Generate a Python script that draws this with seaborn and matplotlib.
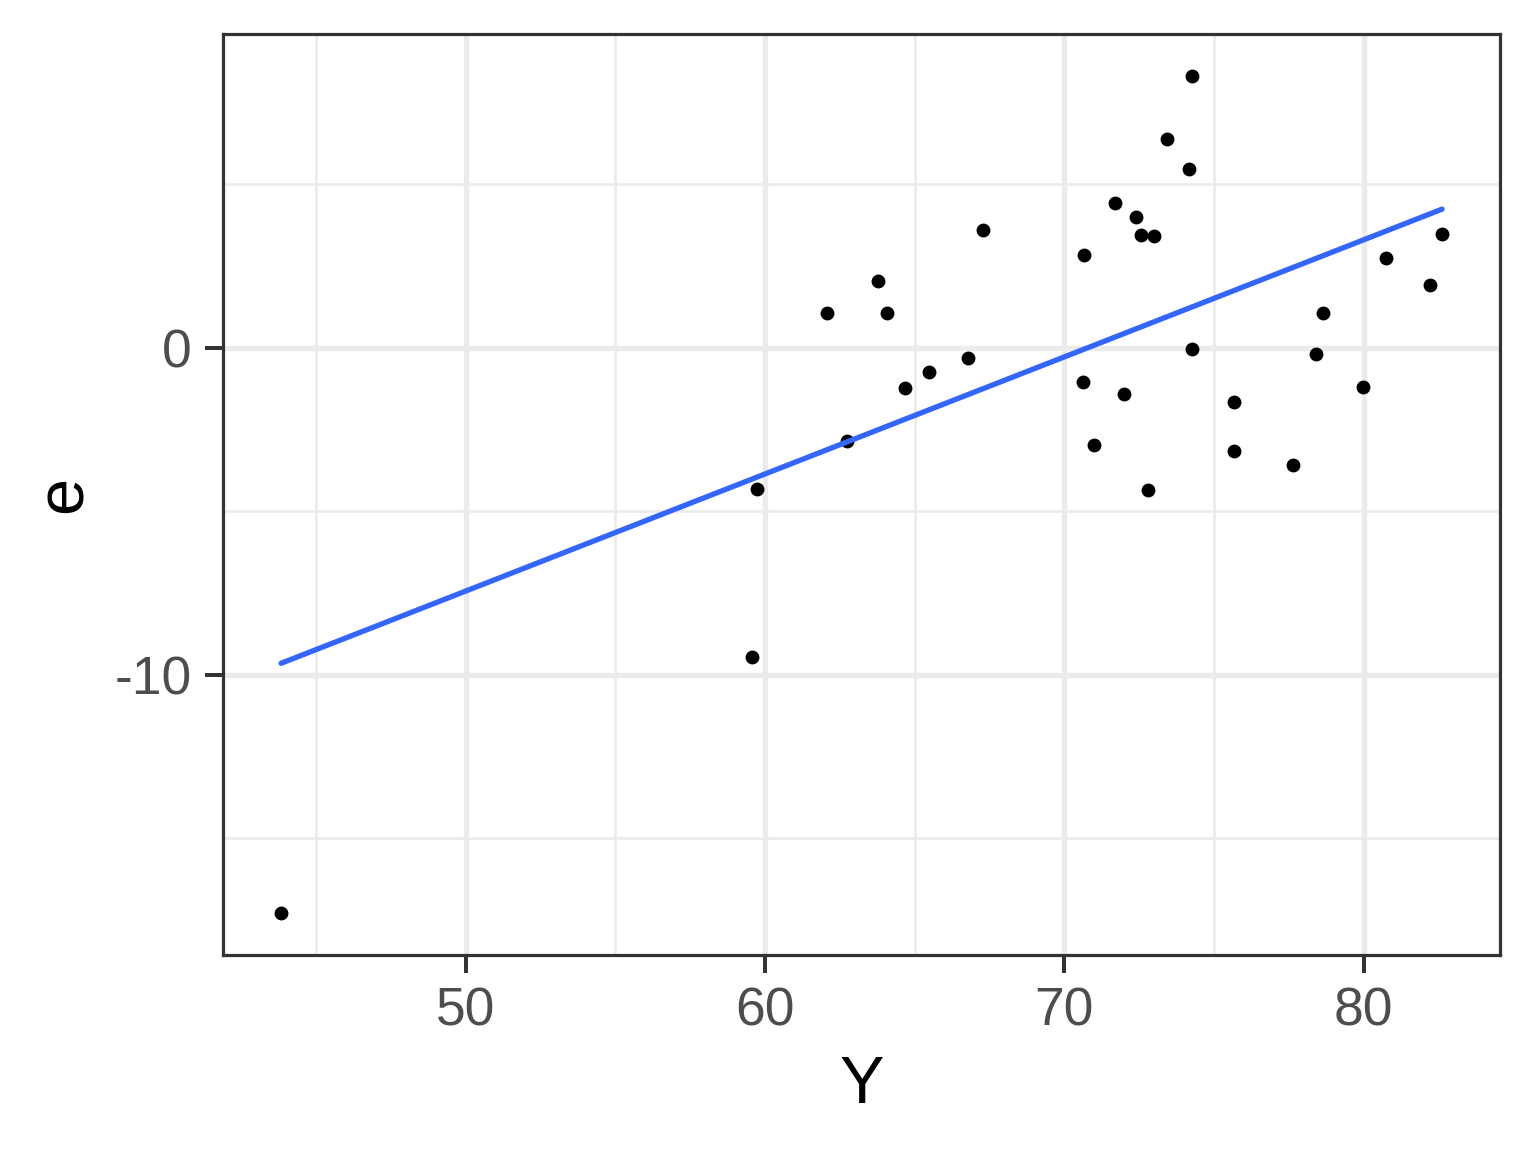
import numpy as np
import pandas as pd
import matplotlib
matplotlib.use("Agg")
import matplotlib.pyplot as plt
import seaborn as sns
from matplotlib.ticker import FixedLocator

# fitted values (Y) and residuals (e)
y_fitted = [43.84, 59.56, 59.73, 62.06, 62.73, 63.79, 64.06, 64.69, 65.49,
            66.79, 67.29, 70.62, 70.65, 70.99, 71.69, 71.99, 72.39, 72.55,
            72.98, 72.78, 73.42, 74.15, 74.25, 74.25, 75.65, 75.65, 77.62,
            78.41, 78.65, 79.98, 80.75, 82.21, 82.61]
resid = [-17.29, -9.45, -4.33, 1.07, -2.84, 2.04, 1.07, -1.22, -0.73,
         -0.30, 3.60, -1.04, 2.84, -2.96, 4.42, -1.40, 3.99, 3.45,
         3.41, -4.36, 6.40, 5.46, 8.32, -0.03, -1.65, -3.14, -3.57,
         -0.18, 1.07, -1.19, 2.74, 1.92, 3.48]

x_breaks = [50, 60, 70, 80]
y_breaks = [-10, 0]

df = pd.DataFrame({"Y": y_fitted, "e": resid})

sns.set_style("white")
plt.rcParams["font.family"] = ["Liberation Sans", "DejaVu Sans"]
plt.rcParams["axes.unicode_minus"] = False

fig = plt.figure(figsize=(8, 6), dpi=192)
ax = fig.add_axes([0.1452, 0.171, 0.9766 - 0.1452, 0.9705 - 0.171])

sns.regplot(data=df, x="Y", y="e", ci=None, ax=ax,
            scatter_kws=dict(s=27, color="black", alpha=1, linewidths=0, zorder=3),
            line_kws=dict(color="#3366FF", linewidth=2.0, zorder=4))

# ggplot-style 5% expansion
xr = df["Y"].max() - df["Y"].min()
yr = df["e"].max() - df["e"].min()
ax.set_xlim(df["Y"].min() - 0.05 * xr, df["Y"].max() + 0.05 * xr)
ax.set_ylim(df["e"].min() - 0.05 * yr, df["e"].max() + 0.05 * yr)

ax.xaxis.set_major_locator(FixedLocator(x_breaks))
ax.yaxis.set_major_locator(FixedLocator(y_breaks))
ax.xaxis.set_minor_locator(FixedLocator([45, 55, 65, 75]))
ax.yaxis.set_minor_locator(FixedLocator([-15, -5, 5]))

ax.grid(which="major", color="#EBEBEB", linewidth=2.0)
ax.grid(which="minor", color="#EBEBEB", linewidth=1.0)
ax.set_axisbelow(True)

for sp in ax.spines.values():
    sp.set_color("#333333")
    sp.set_linewidth(1.2)

ax.tick_params(which="major", length=6.8, width=1.5, color="#333333",
               labelsize=20, labelcolor="#4D4D4D", pad=5, left=True, bottom=True)
ax.tick_params(which="minor", length=0)

ax.set_xlabel("Y", fontsize=25, color="black", labelpad=7)
ax.set_ylabel("e", fontsize=25, color="black", labelpad=7)

fig.savefig("out.png", dpi=192)
